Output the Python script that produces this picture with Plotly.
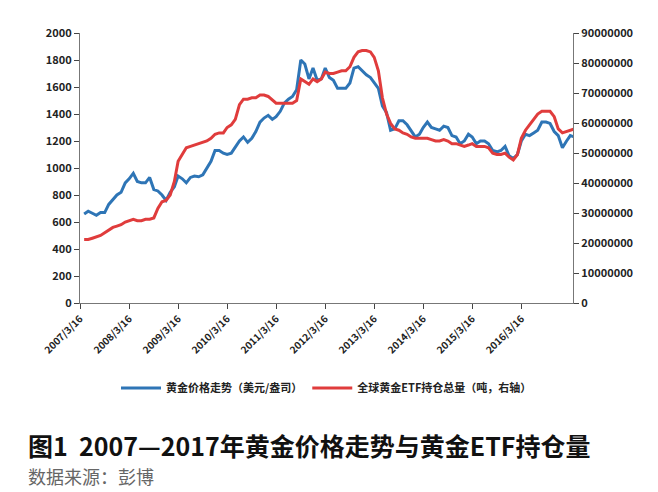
import plotly.graph_objects as go
import pandas as pd

# monthly dates Mar 2007 .. Mar 2017
dates = pd.date_range("2007-03-16", periods=121, freq="MS") + pd.Timedelta(days=15)

gold = [660, 680, 665, 650, 670, 670, 730, 770, 800, 820,
        890, 920, 960, 900, 890, 890, 930, 840, 830, 800, 760, 820,
        860, 940, 920, 890, 930, 940, 935, 950, 1000, 1050, 1130, 1130,
        1110, 1100, 1110, 1150, 1200, 1230, 1190, 1220, 1270, 1340, 1370, 1390,
        1360, 1380, 1420, 1480, 1510, 1530, 1580, 1800, 1770, 1660, 1740, 1650,
        1660, 1740, 1670, 1650, 1590, 1590, 1590, 1630, 1740, 1750, 1720, 1690,
        1670, 1630, 1590, 1460, 1410, 1280, 1290, 1350, 1350, 1320, 1280, 1230,
        1250, 1300, 1340, 1300, 1290, 1280, 1310, 1300, 1240, 1230, 1180, 1200,
        1250, 1230, 1180, 1200, 1200, 1180, 1130, 1120, 1130, 1160, 1090, 1070,
        1100, 1200, 1250, 1240, 1260, 1280, 1340, 1340, 1330, 1270, 1240, 1150,
        1200, 1240, 1230]

etf_left = [470, 470, 480, 490, 500, 520, 540, 560, 570, 580,
            600, 610, 620, 610, 610, 620, 620, 630, 700, 750, 760, 800,
            900, 1050, 1100, 1150, 1160, 1170, 1180, 1190, 1200, 1220, 1250, 1260,
            1260, 1300, 1320, 1360, 1470, 1510, 1510, 1520, 1520, 1540, 1540, 1530,
            1500, 1480, 1480, 1480, 1480, 1480, 1500, 1660, 1640, 1620, 1660, 1640,
            1660, 1710, 1700, 1700, 1710, 1720, 1720, 1750, 1820, 1860, 1870, 1870,
            1860, 1820, 1720, 1520, 1400, 1330, 1290, 1280, 1260, 1250, 1230, 1220,
            1220, 1220, 1220, 1210, 1200, 1200, 1210, 1200, 1180, 1180, 1170, 1160,
            1170, 1180, 1160, 1160, 1160, 1150, 1110, 1100, 1100, 1110, 1080, 1060,
            1100, 1220, 1280, 1320, 1360, 1400, 1420, 1420, 1420, 1380, 1290, 1260,
            1270, 1280, 1290]
etf = [v * 45000 for v in etf_left]

tick_dates = [f"{y}-03-16" for y in range(2007, 2017)]
tick_text = [f"{y}/3/16" for y in range(2007, 2017)]

fig = go.Figure()
fig.add_trace(go.Scatter(x=dates, y=gold, mode="lines", name="黄金价格走势（美元/盎司）",
                         line=dict(color="#2e75b6", width=3)))
fig.add_trace(go.Scatter(x=dates, y=etf, mode="lines", name="全球黄金ETF持仓总量（吨，右轴）",
                         line=dict(color="#e03c3c", width=3), yaxis="y2"))

font = dict(family="Noto Sans CJK SC", size=11, color="#222")
tf = dict(family="Noto Sans CJK SC", size=11, color="#222", weight="bold")
fig.update_layout(
    width=658, height=492, plot_bgcolor="white", paper_bgcolor="white",
    margin=dict(l=72, r=93, t=25, b=197), font=font,
    xaxis=dict(range=["2007-03-16", "2017-04-05"], tickvals=tick_dates, ticktext=tick_text,
               tickangle=-45, showline=True, linecolor="#777", ticks="outside",
               tickfont=dict(tf, size=10), showgrid=False, automargin=False),
    yaxis=dict(range=[0, 2000], dtick=200, showline=True, linecolor="#777", ticks="outside",
               showgrid=False, tickfont=tf, automargin=False),
    yaxis2=dict(range=[0, 90000000], dtick=10000000, overlaying="y", side="right",
                showline=True, linecolor="#777", ticks="outside", showgrid=False,
                tickformat="d", tickfont=tf, automargin=False),
    legend=dict(orientation="h", x=0.5, xanchor="center", y=-0.315, yanchor="middle",
                font=tf, itemwidth=40),
    annotations=[
        dict(text="图1  2007—2017年黄金价格走势与黄金ETF持仓量", xref="paper", yref="paper",
             x=-0.11, y=-0.525, xanchor="left", yanchor="middle", showarrow=False,
             font=dict(family="Noto Sans CJK SC", size=25, color="#111", weight="bold")),
        dict(text="数据来源：彭博", xref="paper", yref="paper",
             x=-0.11, y=-0.64, xanchor="left", yanchor="middle", showarrow=False,
             font=dict(family="Noto Sans CJK SC", size=18, color="#666")),
    ],
)

fig.write_html("out.html")
